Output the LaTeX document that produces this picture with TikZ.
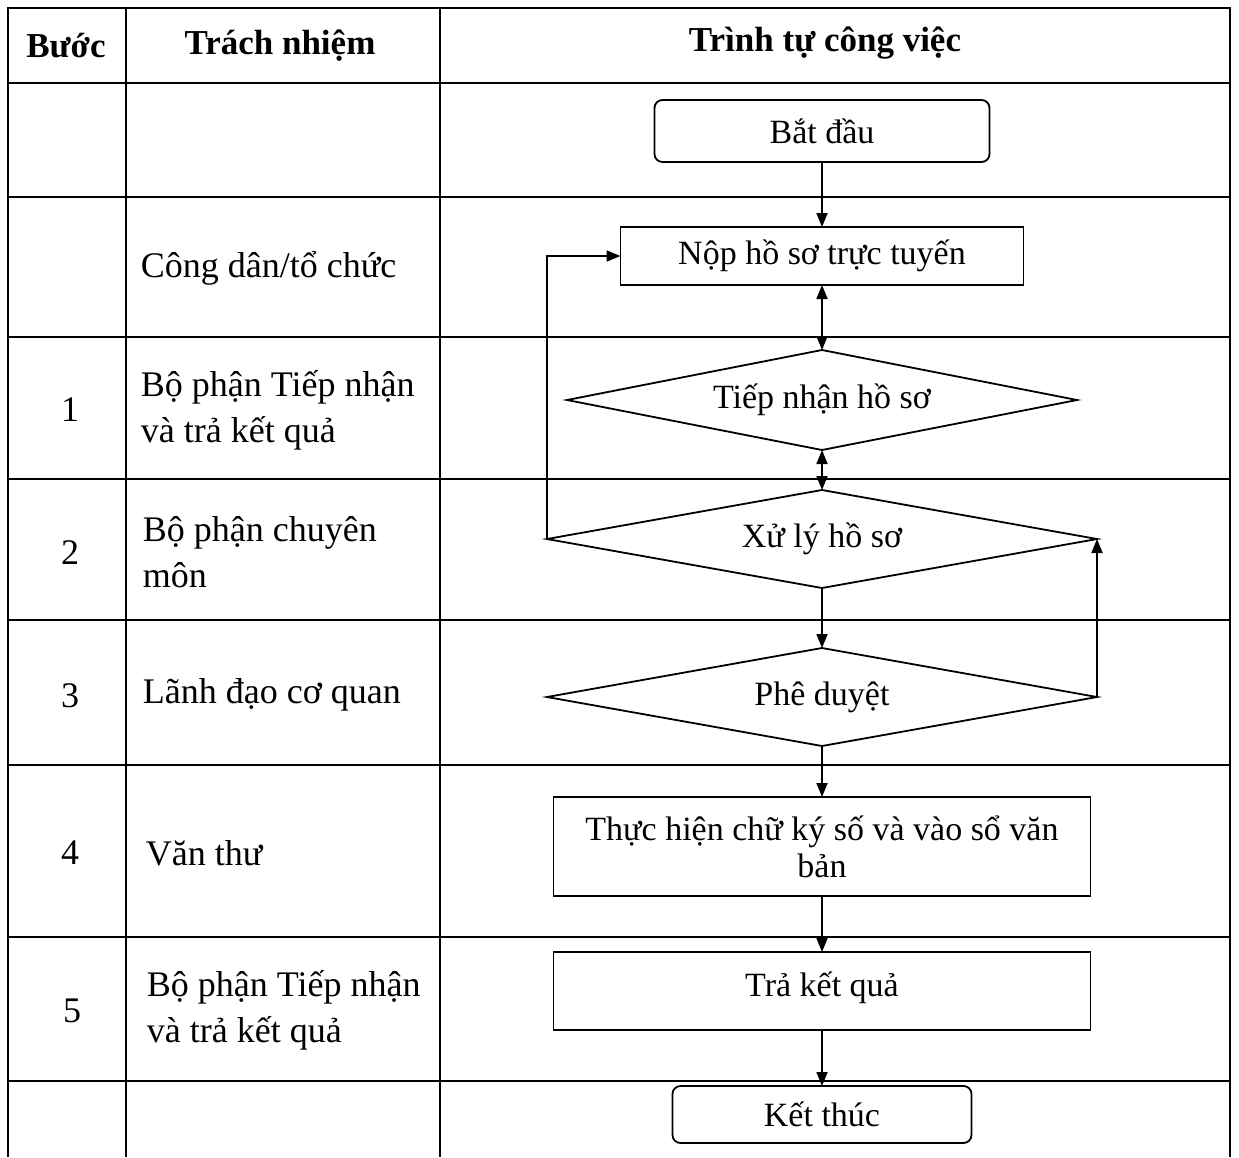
\documentclass[tikz,border=0pt]{standalone}
\usepackage{fontspec}
\setmainfont{Liberation Serif}
\usetikzlibrary{arrows.meta,positioning,shapes.geometric}

\begin{document}
\begin{tikzpicture}[x=1pt,y=-1pt,line width=1.8pt,
    every node/.style={align=center,font=\fontsize{34}{37}\selectfont},
    box/.style={draw,outer sep=0pt,minimum width=537pt,minimum height=78pt},
    term/.style={draw,outer sep=0pt,rounded corners=8pt,minimum height=60pt},
    dia/.style={draw,diamond,outer sep=0pt,aspect=5.6,inner sep=0pt,minimum width=550pt,minimum height=98pt},
    role/.style={anchor=west,align=left,inner sep=0pt,font=\fontsize{36}{46}\selectfont},
    num/.style={font=\fontsize{36}{46}\selectfont},
    head/.style={font=\fontsize{35}{40}\selectfont\bfseries},
    arr/.style={-{Triangle[length=14pt,width=11pt]}},
    darr/.style={{Triangle[length=14pt,width=11pt]}-{Triangle[length=14pt,width=11pt]}}]
    \useasboundingbox (0,0) rectangle (1239,1157);
    % table
    \draw (8,1157) -- (8,8) -- (1230,8) -- (1230,1157);
    \foreach \y in {83,197,337,479,620,765,937,1081} \draw (8,\y) -- (1230,\y);
    \foreach \x in {126,440} \draw (\x,8) -- (\x,1157);
    \node[head] (hbuoc) at (66,46) {Bước};
    \node[head] (htn) at (280,46) {Trách nhiệm};
    \node[head] (htt) at (825,43) {Trình tự công việc};
    % steps and roles
    \node[num] (s1) at (70,410) {1};
    \node[num] (s2) at (70,553) {2};
    \node[num] (s3) at (70,696) {3};
    \node[num] (s4) at (70,853) {4};
    \node[num] (s5) at (72,1011) {5};
    \node[role] (r0) at (140,268) {Công dân/tổ chức};
    \node[role] (r1) at (140,410) {Bộ phận Tiếp nhận\\và trả kết quả};
    \node[role] (r2) at (142,552) {Bộ phận chuyên\\môn};
    \node[role] (r3) at (142,695) {Lãnh đạo cơ quan};
    \node[role] (r4) at (145,853) {Văn thư};
    \node[role] (r5) at (146,1010) {Bộ phận Tiếp nhận\\và trả kết quả};
    % flow
    \node[term,minimum width=335pt,minimum height=62pt] (bd) at (822,131) {Bắt đầu};
    \node[box,minimum width=403pt,minimum height=58pt,below=65pt of bd] (nop) {Nộp hồ sơ trực tuyến};
    \node[dia,aspect=5.1,minimum width=510pt,minimum height=100pt,below=65pt of nop] (tn) {Tiếp nhận hồ sơ};
    \node[dia,below=40pt of tn] (xl) {Xử lý hồ sơ};
    \node[dia,below=60pt of xl] (pd) {Phê duyệt};
    \node[box,minimum height=99pt,below=51pt of pd] (ky) {Thực hiện chữ ký số và vào sổ văn\\bản};
    \node[box,below=56pt of ky,text depth=14pt] (tra) {Trả kết quả};
    \node[term,minimum width=299pt,minimum height=57pt,below=56pt of tra] (kt) {Kết thúc};
    \draw[arr] (bd) -- (nop);
    \draw[darr] (nop) -- (tn);
    \draw[darr] (tn) -- (xl);
    \draw[arr] (xl) -- (pd);
    \draw[arr] (pd) -- (ky);
    \draw[arr] (ky) -- (tra);
    \draw[arr] (tra) -- (kt);
    \draw[arr] (xl.west) |- (nop.west);
    \draw[arr] (pd.east) -- (xl.east);
\end{tikzpicture}
\end{document}
